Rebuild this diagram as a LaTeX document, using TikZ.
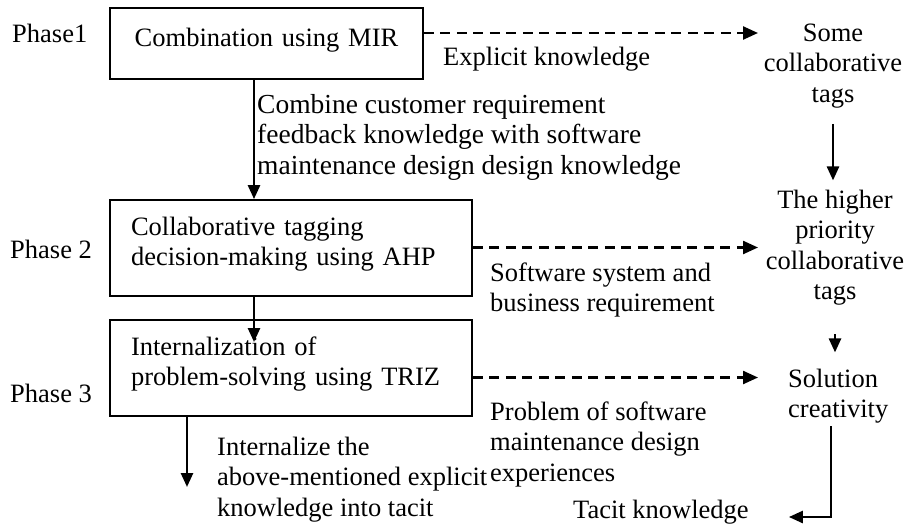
\documentclass[tikz,border=0pt]{standalone}
\usepackage{fontspec}
\setmainfont{Liberation Serif}
\usetikzlibrary{arrows.meta}

\tikzset{
  txt/.style={font=\fontsize{26.5pt}{30.5pt}\selectfont},
  box/.style={draw, line width=1.8pt, inner ysep=0pt, txt},
  lbl/.style={inner sep=0pt, align=left, anchor=base west, txt},
  ctr/.style={inner sep=0pt, align=center, anchor=base, txt},
  arr/.style={line width=2.6pt, -{Triangle[length=14pt,width=12pt]}},
  dsh/.style={line width=2.4pt, dash pattern=on 10pt off 6.5pt,
              -{Triangle[length=15pt,width=13pt]}},
}

\begin{document}
\begin{tikzpicture}[x=1pt, y=-1pt]
  \fill[white] (0,0) rectangle (912,528);
  \useasboundingbox (0,0) rectangle (912,528);

  % phase boxes
  \node[box, minimum width=313pt, minimum height=71pt, text width=293pt,
        inner xsep=10pt, align=center, text height=18pt, text depth=13pt]
        (b1) at (266.5,43.5) {Combination using MIR};
  \node[box, minimum width=362pt, minimum height=96pt, text width=320pt,
        inner xsep=21pt, align=left, text height=18pt, text depth=44pt]
        (b2) at (291,248) {Collaborative tagging\\decision-making using AHP};
  \node[box, minimum width=362pt, minimum height=96pt, text width=320pt,
        inner xsep=21pt, align=left, text height=18pt, text depth=44pt]
        (b3) at (291,368) {Internalization of\\problem-solving using TRIZ};

  % phase labels
  \node[lbl] (ph1) at (12,42) {Phase1};
  \node[lbl] (ph2) at (10,258) {Phase 2};
  \node[lbl] (ph3) at (10,402) {Phase 3};

  % connector labels (multi-line nodes sit on the baseline of their last line)
  \node[lbl, font=\fontsize{27.5pt}{30.5pt}\selectfont] (lb1) at (257,174)
        {Combine customer requirement\\feedback knowledge with software\\maintenance design design knowledge};
  \node[lbl] (lb2) at (443,65) {Explicit knowledge};
  \node[lbl] (lb3) at (490,311.5) {Software system and\\business requirement};
  \node[lbl] (lb4) at (490,481) {Problem of software\\maintenance design\\experiences};
  \node[lbl] (lb5) at (217,516) {Internalize the\\above-mentioned explicit\\knowledge into tacit};

  % outcomes
  \node[ctr] (n1) at (833,102) {Some\\collaborative\\tags};
  \node[ctr] (n2) at (835,299.5) {The higher\\priority\\collaborative\\tags};
  \node[lbl] (n3) at (788,417.5) {Solution\\creativity};
  \node[lbl] (tk) at (573,518) {Tacit knowledge};

  % helper points
  \coordinate (cx) at (254,0);
  \coordinate (a2end) at (254,342);
  \coordinate (a3end) at (187,487);
  \coordinate (e1) at (758,33);
  \coordinate (e2) at (758,247.5);
  \coordinate (e3) at (758,377.5);
  \coordinate (c3) at (831,517);

  % main flow
  \draw[arr] (cx |- b1.south) -- (cx |- b2.north);
  \draw[arr] (cx |- b2.south) -- (a2end);
  \draw[arr] (a3end |- b3.south) -- (a3end);

  % knowledge transfers
  \draw[dsh] (b1.east |- e1) -- (e1);
  \draw[dsh] (b2.east |- e2) -- (e2);
  \draw[dsh] (b3.east |- e3) -- (e3);

  % outcome chain
  \draw[arr, shorten <=16pt, shorten >=9pt] (n1.south) -- (n1.south |- n2.north);
  \draw[arr, shorten <=29pt, shorten >=16pt] (n2.south) -- (n2.south |- n3.north);
  \draw[arr, shorten <=3pt, shorten >=40pt] (c3 |- n3.south) -- (c3) -- (tk.east |- c3);
\end{tikzpicture}
\end{document}
